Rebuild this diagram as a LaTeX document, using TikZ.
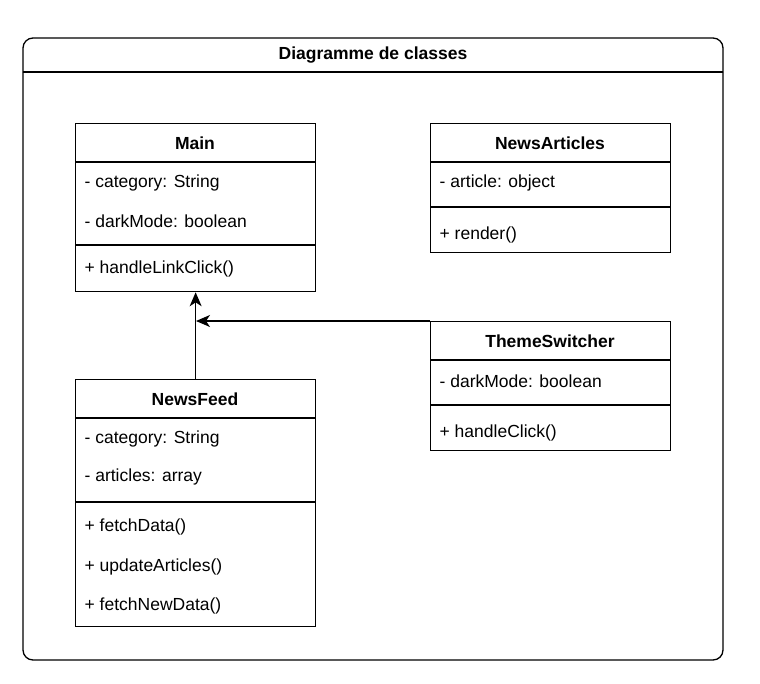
\documentclass[tikz,border=0pt]{standalone}
\usepackage{fontspec}
\setmainfont{Liberation Sans}
\usetikzlibrary{arrows.meta}

\begin{document}
\begin{tikzpicture}[x=1pt, y=-1pt, line width=1.3pt,
  font=\fontsize{17.5}{21}\selectfont,
  box/.style = {draw, anchor=north west, minimum width=240pt, inner sep=0pt},
  head/.style = {font=\fontsize{17.5}{21}\selectfont\bfseries},
  member/.style = {anchor=west, inner sep=0pt},
  arr/.style = {-{Stealth[length=14pt, width=12pt, inset=4pt]}}]
\useasboundingbox (0,0) rectangle (760,683);
% frame
\draw[rounded corners=10pt] (23,72) -- (23,38) -- (723,38) -- (723,72);
\draw[rounded corners=10pt] (23,72) -- (23,660) -- (723,660) -- (723,72);
\draw (23,72) -- (723,72);
\node[head] (title) at (373,55) {Diagramme de classes};
% Main
\node[box, minimum height=168pt] (main) at (75,123) {};
\node[head] (mainname) at (195,143) {Main};
\draw (75,162) -- (315,162);
\node[member] (m1) at (84,183) {- category: String};
\node[member] (m2) at (84,221) {- darkMode: boolean};
\draw (75,245) -- (315,245);
\node[member] (m3) at (84,269) {+ handleLinkClick()};
% NewsArticles
\node[box, minimum height=129pt] (articles) at (430,123) {};
\node[head] (articlesname) at (550,143) {NewsArticles};
\draw (430,162) -- (670,162);
\node[member] (a1) at (439,183) {- article: object};
\draw (430,207) -- (670,207);
\node[member] (a2) at (439,235) {+ render()};
% ThemeSwitcher
\node[box, minimum height=129pt] (theme) at (430,321) {};
\node[head] (themename) at (550,341) {ThemeSwitcher};
\draw (430,360) -- (670,360);
\node[member] (t1) at (439,381) {- darkMode: boolean};
\draw (430,405) -- (670,405);
\node[member] (t2) at (439,433) {+ handleClick()};
% NewsFeed
\node[box, minimum height=247pt] (feed) at (75,379) {};
\node[head] (feedname) at (195,399) {NewsFeed};
\draw (75,418) -- (315,418);
\node[member] (f1) at (84,439) {- category: String};
\node[member] (f2) at (84,477) {- articles: array};
\draw (75,502) -- (315,502);
\node[member] (f3) at (84,527) {+ fetchData()};
\node[member] (f4) at (84,567) {+ updateArticles()};
\node[member] (f5) at (84,606) {+ fetchNewData()};
% links
\coordinate (join) at (196,321);
\draw[arr] (feed.north) -- (main.south);
\draw[arr] (theme.north west) -- (join);
\end{tikzpicture}
\end{document}
